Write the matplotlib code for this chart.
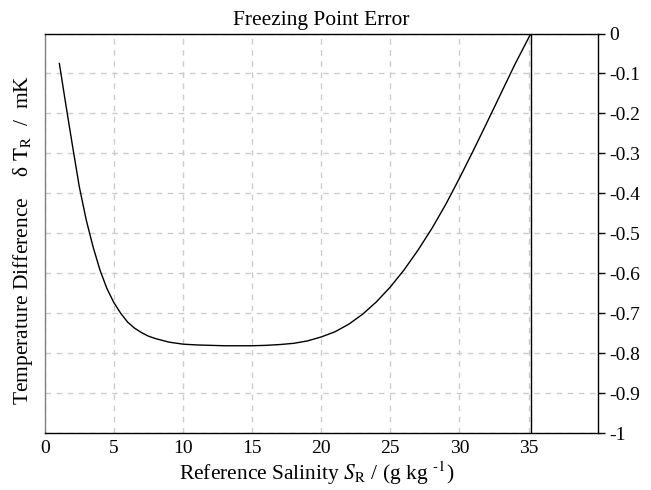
import numpy as np
import matplotlib
matplotlib.use("Agg")
import matplotlib.pyplot as plt

plt.rcParams['font.family'] = ['Liberation Serif', 'DejaVu Serif']
plt.rcParams['mathtext.fontset'] = 'stix'
plt.rcParams['axes.unicode_minus'] = False

# freezing point error (g/kg, mK)
salinity = [1.06, 1.5, 2.0, 2.5, 3.0, 3.5, 4.0, 4.5, 5.0, 5.5, 6.0, 6.5, 7.0,
            7.5, 8.0, 9.0, 10.0, 11.0, 12.0, 13.0, 14.0, 15.0, 16.0, 17.0,
            18.0, 19.0, 20.0, 21.0, 22.0, 23.0, 24.0, 25.0, 26.0, 27.0, 28.0,
            29.0, 30.0, 31.0, 32.0, 33.0, 34.0, 35.16504]
dT = [-0.075, -0.172, -0.279, -0.383, -0.466, -0.534, -0.592, -0.638, -0.673,
      -0.700, -0.722, -0.737, -0.748, -0.757, -0.763, -0.772, -0.777, -0.779,
      -0.780, -0.781, -0.781, -0.781, -0.780, -0.778, -0.775, -0.769, -0.759,
      -0.746, -0.727, -0.702, -0.671, -0.634, -0.591, -0.542, -0.488, -0.428,
      -0.362, -0.293, -0.222, -0.150, -0.078, 0.0]
SR_ref = 35.16504

xticks = [0, 5, 10, 15, 20, 25, 30, 35]
yticks = [0, -0.1, -0.2, -0.3, -0.4, -0.5, -0.6, -0.7, -0.8, -0.9, -1]
ylabels = ['0', '-0.1', '-0.2', '-0.3', '-0.4', '-0.5', '-0.6', '-0.7', '-0.8', '-0.9', '-1']

fig = plt.figure(figsize=(6.51, 4.9), dpi=100)
ax = fig.add_axes([0.0687, 0.1157, 0.8494, 0.8159])

ax.plot(salinity, dT, color='black', lw=1.0)
ax.axvline(SR_ref, color='black', lw=1.0)

ax.set_xlim(0, 40)
ax.set_ylim(-1, 0)
ax.set_xticks(xticks)
ax.set_yticks(yticks)
ax.set_yticklabels(ylabels)
ax.yaxis.tick_right()
ax.tick_params(axis='y', direction='out', length=5, width=1, pad=3, labelsize=14)
ax.tick_params(axis='x', length=0, pad=5, labelsize=14)

ax.grid(True, color='#cccccc', linestyle=(0, (4, 4)), lw=1)

for s in ['top', 'right', 'bottom']:
    ax.spines[s].set_color('black')
    ax.spines[s].set_linewidth(1)
ax.spines['left'].set_color('#808080')
ax.spines['left'].set_linewidth(1)

ax.set_title('Freezing Point Error', fontsize=15.5, pad=6)
fig.text(0.487, 0.006, r'Reference Salinity $S_\mathrm{R}$ / (g kg $^{\text{-1}}$)',
         ha='center', va='bottom', fontsize=15.5)
fig.text(0.036, 0.51, 'Temperature Difference    δ $\\mathrm{T_R}$  /  mK',
         rotation=90, ha='center', va='center', fontsize=15.5)

fig.savefig('out.png', dpi=100)
